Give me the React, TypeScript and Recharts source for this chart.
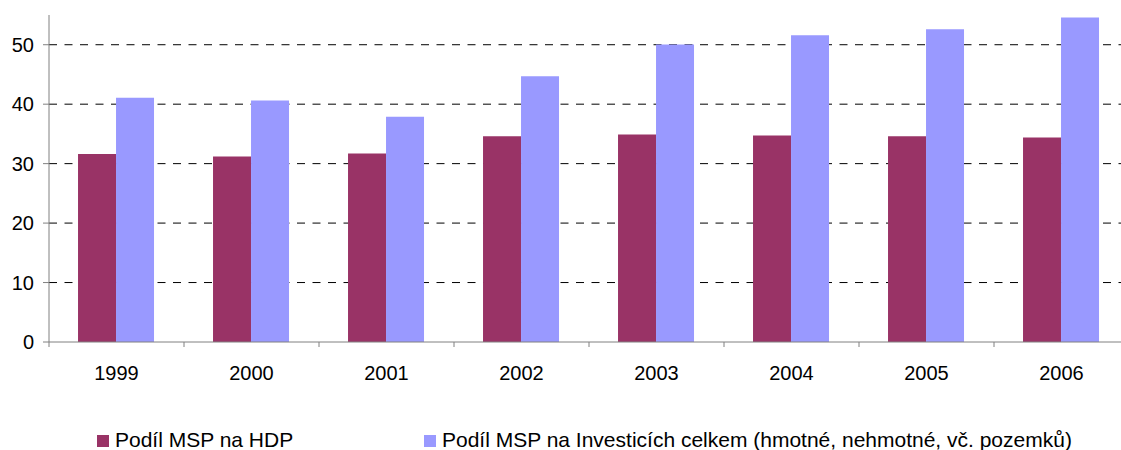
import React from "react";
import { BarChart, Bar, XAxis, YAxis, CartesianGrid, Legend } from "recharts";

const years = ["1999", "2000", "2001", "2002", "2003", "2004", "2005", "2006"];
const podilHDP = [31.6, 31.2, 31.7, 34.6, 34.9, 34.75, 34.6, 34.4];
const podilInvestice = [41.1, 40.6, 37.9, 44.7, 50.05, 51.6, 52.6, 54.6];
const yTicks = [0, 10, 20, 30, 40, 50];
const gridValues = [10, 20, 30, 40, 50];
const seriesNames = [
  "Podíl MSP na HDP",
  "Podíl MSP na Investicích celkem (hmotné, nehmotné, vč. pozemků)",
];
const colors = ["#993366", "#9999FF"];

const data = years.map((y, i) => ({
  year: y,
  hdp: podilHDP[i],
  inv: podilInvestice[i],
}));

const FONT = "'Liberation Sans', Arial, sans-serif";

const CatTick = (props: any) => {
  const { x, y, payload, index } = props;
  const half = payload && payload.offset ? payload.offset : 67.5;
  const axisY = y - 5;
  return (
    <g>
      <line x1={x - half} y1={axisY} x2={x - half} y2={axisY + 5} stroke="#808080" />
      {index === years.length - 1 && (
        <line x1={x + half} y1={axisY} x2={x + half} y2={axisY + 5} stroke="#808080" />
      )}
      <text x={x} y={axisY + 38} textAnchor="middle" fontSize={20} fontFamily={FONT} fill="#000">
        {payload.value}
      </text>
    </g>
  );
};

const LegendContent = () => (
  <svg width={1133} height={48} style={{ display: "block" }}>
    <rect x={97} y={33} width={12} height={12} fill={colors[0]} />
    <text x={115} y={45} fontSize={21} fontFamily={FONT} fill="#000">
      {seriesNames[0]}
    </text>
    <rect x={424} y={33} width={12} height={12} fill={colors[1]} />
    <text x={442} y={45} fontSize={21} fontFamily={FONT} fill="#000">
      {seriesNames[1]}
    </text>
  </svg>
);

export default function App() {
  return (
    <div
      style={{
        position: "fixed",
        left: 0,
        top: 0,
        width: 1121,
        height: 450,
        overflow: "hidden",
        background: "#fff",
      }}
    >
      <BarChart
        width={1133}
        height={450}
        data={data}
        margin={{ top: 15, right: 4, left: 0, bottom: 0 }}
        barCategoryGap="21.5%"
        barGap={0}
      >
        <CartesianGrid
          vertical={false}
          stroke="#000"
          strokeDasharray="8 7.5"
          horizontalValues={gridValues}
        />
        <XAxis
          dataKey="year"
          height={60}
          tickLine={false}
          tickSize={5}
          tickMargin={0}
          axisLine={{ stroke: "#808080" }}
          tick={<CatTick />}
          interval={0}
        />
        <YAxis
          width={49}
          domain={[0, 55]}
          ticks={yTicks}
          tickSize={6}
          tickMargin={9}
          axisLine={{ stroke: "#808080" }}
          tickLine={{ stroke: "#808080" }}
          tick={{ fontSize: 20, fontFamily: FONT, fill: "#000" }}
          allowDataOverflow
        />
        <Legend
          verticalAlign="bottom"
          align="left"
          height={48}
          content={<LegendContent />}
          wrapperStyle={{ left: 0, bottom: 0, width: 1133 }}
        />
        <Bar dataKey="hdp" name={seriesNames[0]} fill={colors[0]} isAnimationActive={false} />
        <Bar dataKey="inv" name={seriesNames[1]} fill={colors[1]} isAnimationActive={false} />
      </BarChart>
    </div>
  );
}
